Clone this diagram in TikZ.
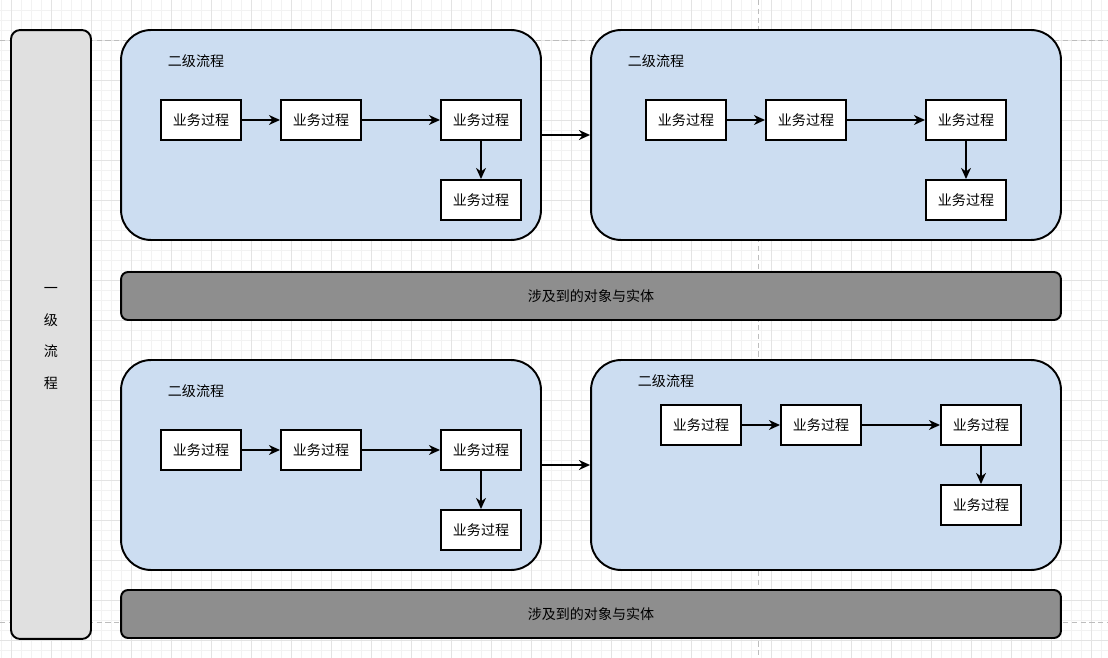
\documentclass[tikz,border=0pt]{standalone}
\usepackage{fontspec}
\setmainfont{Noto Sans CJK SC}
\usepackage{xcolor}
\usepackage{tikz}
\usetikzlibrary{arrows.meta}
\usetikzlibrary{positioning}
\definecolor{lvone}{HTML}{E0E0E0}
\definecolor{lvtwo}{HTML}{CCDDF1}
\definecolor{entity}{HTML}{8E8E8E}
\definecolor{gridmin}{HTML}{F2F2F2}
\definecolor{gridmaj}{HTML}{E3E3E3}
\definecolor{pagebrk}{HTML}{BDBDBD}
\tikzset{>={Stealth[length=6.3pt,width=5.6pt,inset=2pt]}}
\tikzstyle{proc} = [rectangle, draw, line width=1.1pt, fill=white, minimum width=1.6cm, minimum height=0.8cm, inner sep=0, font=\fontsize{8}{9}\selectfont]
\tikzstyle{subflow} = [rectangle, draw, line width=1.1pt, fill=lvtwo, rounded corners=0.6cm, minimum height=4.2cm, inner sep=0]
\tikzstyle{objbar} = [rectangle, draw, line width=1.1pt, fill=entity, rounded corners=0.14cm, minimum width=18.8cm, minimum height=0.96cm, inner sep=0, font=\fontsize{8}{9}\selectfont]
\tikzstyle{lbl} = [draw=none, inner sep=0, font=\fontsize{8}{9}\selectfont]
\tikzstyle{flow} = [->, line width=1.1pt]

\begin{document}
\begin{tikzpicture}[x=0.02cm, y=-0.02cm]
\useasboundingbox (0,0) rectangle (1108,658);
\fill[white] (0,0) rectangle (1108,658);
% background grid
\foreach \x in {1.7,11.7,...,1101.7} \draw[gridmin, line width=0.5pt] (\x,0) -- (\x,658);
\foreach \y in {10,20,...,650} \draw[gridmin, line width=0.5pt] (0,\y) -- (1108,\y);
\foreach \x in {11.7,51.7,...,1091.7} \draw[gridmaj, line width=0.5pt] (\x,0) -- (\x,658);
\foreach \y in {40,80,...,640} \draw[gridmaj, line width=0.5pt] (0,\y) -- (1108,\y);
\draw[pagebrk, line width=0.5pt, dash pattern=on 3pt off 2pt] (0,40) -- (1108,40);
\draw[pagebrk, line width=0.5pt, dash pattern=on 3pt off 2pt] (0,622) -- (1108,622);
\draw[pagebrk, line width=0.5pt, dash pattern=on 3pt off 2pt] (758,0) -- (758,658);

% level one
\node [rectangle, draw, line width=1.1pt, fill=lvone, rounded corners=0.18cm, minimum width=1.6cm, minimum height=12.18cm, inner sep=0] (L1) at (51,334.5) {};
\node [lbl, align=center, font=\fontsize{8}{18.1}\selectfont] (L1t) at (51,338.5) {一\\级\\流\\程};

% level two, top row
\node [subflow, minimum width=8.4cm] (S1) at (331,135) {};
\node [subflow, minimum width=9.4cm] (S2) at (826,135) {};
\node [lbl] (S1t) at (196,61) {二级流程};
\node [lbl] (S2t) at (656,61) {二级流程};
\node [proc] (A1) at (201,120) {业务过程};
\node [proc] (A2) at (321,120) {业务过程};
\node [proc] (A3) at (481,120) {业务过程};
\node [proc] (A4) at (481,200) {业务过程};
\node [proc] (B1) at (686,120) {业务过程};
\node [proc] (B2) at (806,120) {业务过程};
\node [proc] (B3) at (966,120) {业务过程};
\node [proc] (B4) at (966,200) {业务过程};
\draw [flow] (A1) to (A2);
\draw [flow] (A2) to (A3);
\draw [flow] (A3) to (A4);
\draw [flow] (B1) to (B2);
\draw [flow] (B2) to (B3);
\draw [flow] (B3) to (B4);
\draw [flow] (S1) to (S2);

\node [objbar] (O1) at (591,296) {涉及到的对象与实体};

% level two, bottom row
\node [subflow, minimum width=8.4cm] (S3) at (331,465) {};
\node [subflow, minimum width=9.4cm] (S4) at (826,465) {};
\node [lbl] (S3t) at (196,391) {二级流程};
\node [lbl] (S4t) at (666,381) {二级流程};
\node [proc] (C1) at (201,450) {业务过程};
\node [proc] (C2) at (321,450) {业务过程};
\node [proc] (C3) at (481,450) {业务过程};
\node [proc] (C4) at (481,530) {业务过程};
\node [proc] (D1) at (701,425) {业务过程};
\node [proc] (D2) at (821,425) {业务过程};
\node [proc] (D3) at (981,425) {业务过程};
\node [proc] (D4) at (981,505) {业务过程};
\draw [flow] (C1) to (C2);
\draw [flow] (C2) to (C3);
\draw [flow] (C3) to (C4);
\draw [flow] (D1) to (D2);
\draw [flow] (D2) to (D3);
\draw [flow] (D3) to (D4);
\draw [flow] (S3) to (S4);

\node [objbar] (O2) at (591,614) {涉及到的对象与实体};
\end{tikzpicture}
\end{document}
